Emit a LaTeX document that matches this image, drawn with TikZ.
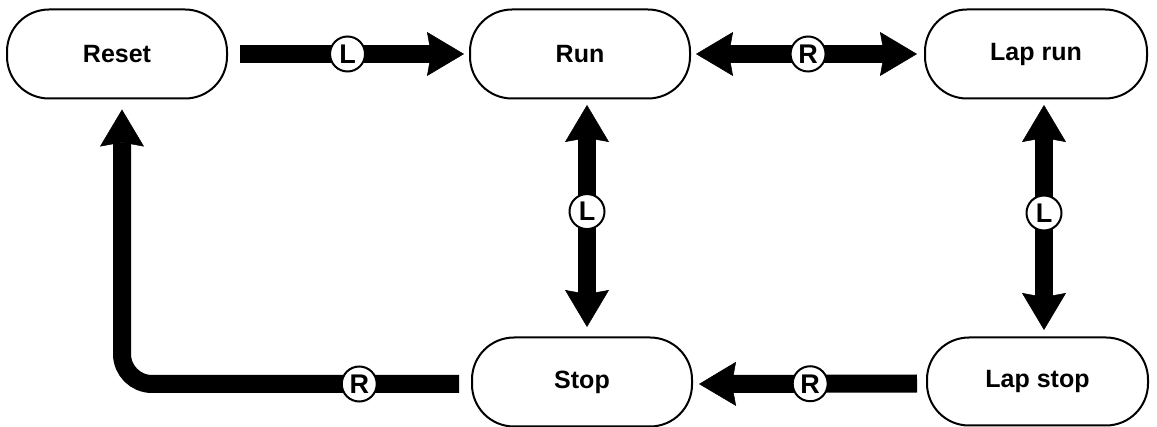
\documentclass[tikz,border=0pt]{standalone}
\usepackage{fontspec}
\setmainfont{Liberation Sans}
\usetikzlibrary{arrows.meta}

\tikzset{
  state/.style={draw, line width=2pt, rounded corners=42pt,
    minimum width=220pt, minimum height=89pt, inner sep=0pt,
    font=\fontsize{25}{25}\selectfont\bfseries},
  key/.style={circle, draw, line width=2pt, fill=white, minimum size=35pt,
    inner sep=0pt, font=\fontsize{27}{27}\selectfont\bfseries},
  head/.tip={Stealth[length=37pt, width=44pt, inset=4pt, line width=0.5pt]},
  flow/.style={line width=18pt, -head},
  flowboth/.style={line width=18pt, head-head},
}

\begin{document}
\begin{tikzpicture}[x=1pt, y=-1pt]
  \useasboundingbox (0,0) rectangle (1157,427);

  % watch states
  \node[state] (reset)   at (117,54)    {Reset};
  \node[state] (run)     at (580,54)    {Run};
  \node[state, minimum width=222pt] (laprun) at (1036,54) {Lap run};
  \node[state] (stop)    at (582,382)   {Stop};
  \node[state, minimum width=221pt, minimum height=88pt] (lapstop) at (1037.5,381.5) {Lap stop};

  % transitions, each marked with the button that triggers it
  \draw[flow] ([xshift=12pt]reset.east) -- ([xshift=-5pt]run.west)
    node[key, pos=0.48] {L};
  \draw[flowboth] ([xshift=5pt]run.east) -- ([xshift=-7pt]laprun.west)
    node[key, pos=0.507] {R};
  \draw[flowboth] ([xshift=7pt, yshift=-5.5pt]run.south) -- ([xshift=5pt, yshift=9.5pt]stop.north)
    node[key, pos=0.48] {L};
  \draw[flowboth] ([xshift=8pt, yshift=-5.5pt]laprun.south) -- ([xshift=6.5pt, yshift=6.5pt]lapstop.north)
    node[key, pos=0.48] {L};
  \draw[flow] ([xshift=-9pt, yshift=-2pt]lapstop.west) -- ([xshift=6pt, yshift=-2pt]stop.east)
    node[key, pos=0.49] {R};
  \draw[flow, rounded corners=30pt] ([xshift=-12pt, yshift=-2pt]stop.west)
    -| ([xshift=5pt, yshift=-10pt]reset.south)
    node[key, pos=0.148] {R};
\end{tikzpicture}
\end{document}
